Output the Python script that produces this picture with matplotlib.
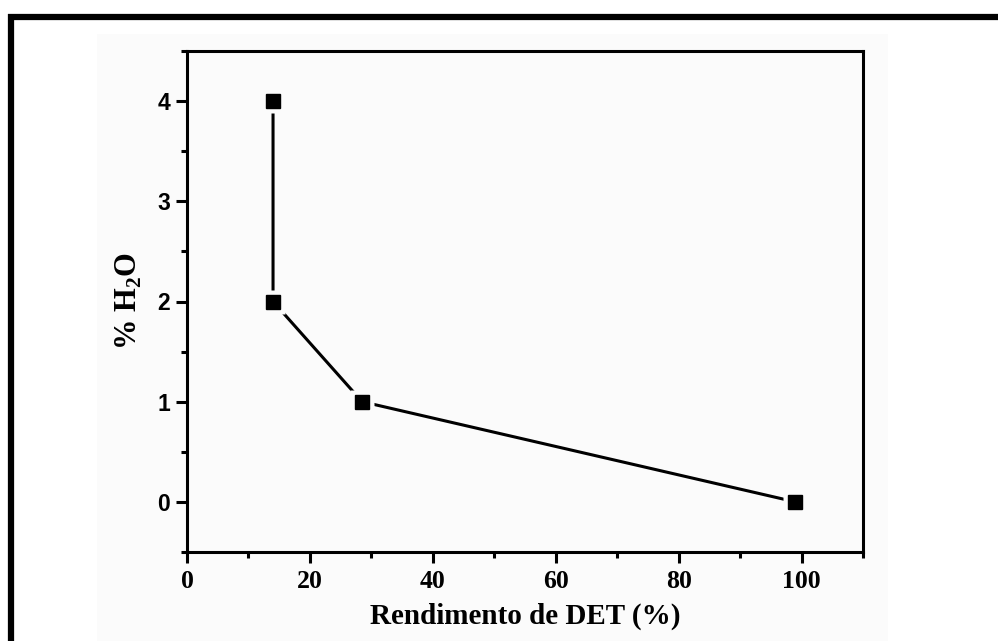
import matplotlib.pyplot as plt
from matplotlib.ticker import MultipleLocator
from matplotlib.patches import Rectangle
from matplotlib.lines import Line2D

# yield of DET vs water content
rendimento = [14, 14, 28.5, 99]
agua = [4, 2, 1, 0]

x_ticks = [0, 20, 40, 60, 80, 100]
y_ticks = [0, 1, 2, 3, 4]

plt.rcParams['mathtext.fontset'] = 'custom'
plt.rcParams['mathtext.rm'] = 'Liberation Serif:bold'
plt.rcParams['mathtext.bf'] = 'Liberation Serif:bold'


def main():
    fig = plt.figure(figsize=(9.98, 6.41), dpi=100)
    fig.patch.set_facecolor('white')

    # light panel behind the plot and the thick frame lines
    fig.patches.append(Rectangle((97 / 998, 0), (888 - 97) / 998, 1 - 34 / 641,
                                 transform=fig.transFigure, facecolor='#fbfbfb',
                                 edgecolor='none', zorder=-5))
    fig.lines.append(Line2D([8 / 998, 1], [1 - 17 / 641, 1 - 17 / 641],
                            transform=fig.transFigure, color='black', lw=4.5,
                            solid_capstyle='butt', zorder=-4))
    fig.lines.append(Line2D([11 / 998, 11 / 998], [0, 1 - 14 / 641],
                            transform=fig.transFigure, color='black', lw=4.5,
                            solid_capstyle='butt', zorder=-4))

    ax = fig.add_axes([187 / 998, 1 - 552 / 641, (863 - 187) / 998, (552 - 51) / 641])
    ax.set_facecolor('#fbfbfb')

    ax.plot(rendimento, agua, color='black', lw=2.2, zorder=2)
    # white squares first so the line stops short of each marker
    ax.plot(rendimento, agua, ls='none', marker='s', ms=17, mfc='#fbfbfb',
            mec='none', zorder=3)
    ax.plot(rendimento, agua, ls='none', marker='s', ms=10.5, mfc='black',
            mec='black', zorder=4)

    ax.set_xlim(0, 110)
    ax.set_ylim(-0.5, 4.5)
    ax.set_xticks(x_ticks)
    ax.set_yticks(y_ticks)
    ax.xaxis.set_minor_locator(MultipleLocator(10))
    ax.yaxis.set_minor_locator(MultipleLocator(0.5))

    for s in ax.spines.values():
        s.set_linewidth(2.2)

    ax.tick_params(which='both', direction='out', width=2.2, top=False, right=False)
    ax.tick_params(which='major', length=8)
    ax.tick_params(which='minor', length=4.5)
    ax.tick_params(axis='x', which='major', pad=5)
    ax.tick_params(axis='y', which='major', pad=4)

    for lab in ax.get_xticklabels():
        lab.set_fontfamily('Liberation Serif')
        lab.set_fontweight('bold')
        lab.set_fontsize(18.5)
    for lab in ax.get_yticklabels():
        lab.set_fontfamily('Liberation Sans')
        lab.set_fontweight('bold')
        lab.set_fontsize(16.5)

    ax.set_xlabel('Rendimento de DET (%)', fontfamily='Liberation Serif',
                  fontweight='bold', fontsize=21, labelpad=7)
    ax.set_ylabel(r'% H$_\mathbf{2}$O', fontfamily='Liberation Serif',
                  fontweight='bold', fontsize=22, labelpad=10)

    fig.savefig('out.png', dpi=100)


if __name__ == '__main__':
    main()
